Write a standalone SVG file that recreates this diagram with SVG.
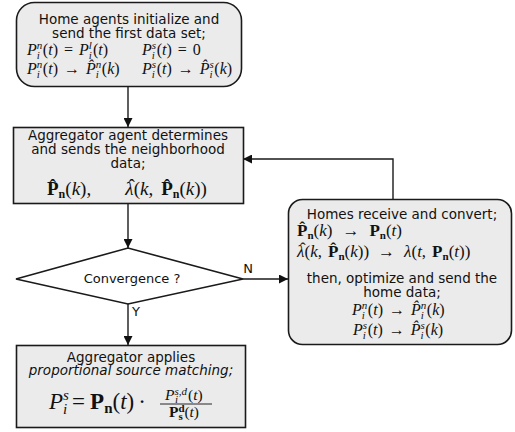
<svg xmlns="http://www.w3.org/2000/svg" width="515" height="432" viewBox="0 0 515 432">
<style>
.box{fill:#ebebeb;stroke:#1a1a1a;stroke-width:1.6}
.t{font-family:"DejaVu Sans",sans-serif;font-size:13.5px;fill:#111;text-anchor:middle}
.m{font-family:"Liberation Serif",serif;font-size:16px;font-style:italic;fill:#111}
.m19{font-size:19px}
.m17{font-size:17px}
.big{font-size:23px}
.fr{font-size:15.5px}
.s{font-size:11px}
.s12{font-size:12px}
.sb{font-size:15px}
.sf{font-size:11px}
.b{font-weight:bold;font-style:normal}
.u{font-style:normal}
.c{fill:none;stroke:#1a1a1a;stroke-width:1.4}
</style>
<defs>
<marker id="ah" viewBox="0 0 10 10" refX="10" refY="5" markerWidth="9" markerHeight="9" markerUnits="userSpaceOnUse" orient="auto">
<path d="M0,0 L10,5 L0,10 z" fill="#111"/>
</marker>
</defs>
<g id="connectors">
<path class="c" d="M128,87 V127" marker-end="url(#ah)"/>
<path class="c" d="M128,204 V248" marker-end="url(#ah)"/>
<path class="c" d="M243,279 H288" marker-end="url(#ah)"/>
<path class="c" d="M128,304 V345" marker-end="url(#ah)"/>
<path class="c" d="M393,199 V159 H243" marker-end="url(#ah)"/>
<text class="t" x="248" y="273" style="font-size:13px">N</text>
<text class="t" x="136" y="316" style="font-size:13px">Y</text>
</g>
<g id="start">
<rect class="box" x="16.5" y="2.5" width="225" height="84" rx="18"/>
<text class="t" x="129" y="24">Home agents initialize and</text>
<text class="t" x="129" y="38">send the first data set;</text>
<text class="m" x="27" y="55">P<tspan class="s" dy="-6">n</tspan><tspan class="s" dx="-5.5" dy="10">i</tspan><tspan class="u" dx="3" dy="-4">(</tspan>t<tspan class="u">)</tspan><tspan class="u" dx="6">=</tspan><tspan dx="6">P</tspan><tspan class="s" dy="-6">l</tspan><tspan class="s" dx="-3" dy="10">i</tspan><tspan class="u" dx="1" dy="-4">(</tspan>t<tspan class="u">)</tspan></text>
<text class="m" x="142" y="55">P<tspan class="s" dy="-6">s</tspan><tspan class="s" dx="-4.3" dy="10">i</tspan><tspan class="u" dx="1.8" dy="-4">(</tspan>t<tspan class="u">)</tspan><tspan class="u" dx="6">=</tspan><tspan class="u" dx="6">0</tspan></text>
<text class="m" x="27" y="74">P<tspan class="s" dy="-6">n</tspan><tspan class="s" dx="-5.5" dy="10">i</tspan><tspan class="u" dx="3" dy="-4">(</tspan>t<tspan class="u">)</tspan><tspan class="u" dx="6">→</tspan><tspan dx="6">P̂</tspan><tspan class="s" dy="-6">n</tspan><tspan class="s" dx="-5.5" dy="10">i</tspan><tspan class="u" dx="3" dy="-4">(</tspan>k<tspan class="u">)</tspan></text>
<text class="m" x="142" y="74">P<tspan class="s" dy="-6">s</tspan><tspan class="s" dx="-4.3" dy="10">i</tspan><tspan class="u" dx="1.8" dy="-4">(</tspan>t<tspan class="u">)</tspan><tspan class="u" dx="6">→</tspan><tspan dx="6">P̂</tspan><tspan class="s" dy="-6">s</tspan><tspan class="s" dx="-4.3" dy="10">i</tspan><tspan class="u" dx="1.8" dy="-4">(</tspan>k<tspan class="u">)</tspan></text>
</g>
<g id="aggregate">
<rect class="box" x="13.5" y="127.5" width="230" height="76"/>
<text class="t" x="128" y="140">Aggregator agent determines</text>
<text class="t" x="128" y="154">and sends the neighborhood</text>
<text class="t" x="128" y="168">data;</text>
<text class="m m19" x="47" y="195"><tspan class="b">P̂</tspan><tspan class="s12 b" dy="3">n</tspan><tspan class="u" dy="-3">(</tspan>k<tspan class="u">),</tspan><tspan dx="34">λ</tspan><tspan class="u" dx="-5" dy="-3">ˆ</tspan><tspan class="u" dx="-1" dy="3">(</tspan>k<tspan class="u">,</tspan><tspan class="b" dx="8">P̂</tspan><tspan class="s12 b" dy="3">n</tspan><tspan class="u" dy="-3">(</tspan>k<tspan class="u">))</tspan></text>
</g>
<g id="convergence">
<polygon class="box" points="16,279 128,248 243,279 128,304" style="fill:#ffffff"/>
<text class="t" x="132" y="283" style="font-size:13px">Convergence ?</text>
</g>
<g id="homes">
<rect class="box" x="288.5" y="199.5" width="223" height="145" rx="14"/>
<text class="t" x="402" y="219">Homes receive and convert;</text>
<text class="m m17" x="297" y="236"><tspan class="b">P̂</tspan><tspan class="s b" dy="3">n</tspan><tspan class="u" dy="-3">(</tspan>k<tspan class="u">)</tspan><tspan class="u" dx="10">→</tspan><tspan class="b" dx="10">P</tspan><tspan class="s b" dy="3">n</tspan><tspan class="u" dy="-3">(</tspan>t<tspan class="u">)</tspan></text>
<text class="m m17" x="297" y="257">λ<tspan class="u" dx="-4.5" dy="-3">ˆ</tspan><tspan class="u" dx="-1" dy="3">(</tspan>k<tspan class="u">,</tspan><tspan class="b" dx="6">P̂</tspan><tspan class="s b" dy="3">n</tspan><tspan class="u" dy="-3">(</tspan>k<tspan class="u">))</tspan><tspan class="u" dx="9">→</tspan><tspan dx="9">λ</tspan><tspan class="u">(</tspan>t<tspan class="u">,</tspan><tspan class="b" dx="6">P</tspan><tspan class="s b" dy="3">n</tspan><tspan class="u" dy="-3">(</tspan>t<tspan class="u">))</tspan></text>
<text class="t" x="402" y="283">then, optimize and send the</text>
<text class="t" x="402" y="297">home data;</text>
<text class="m" x="352" y="315">P<tspan class="s" dy="-6">n</tspan><tspan class="s" dx="-5.5" dy="10">i</tspan><tspan class="u" dx="3" dy="-4">(</tspan>t<tspan class="u">)</tspan><tspan class="u" dx="6">→</tspan><tspan dx="6">P̂</tspan><tspan class="s" dy="-6">n</tspan><tspan class="s" dx="-5.5" dy="10">i</tspan><tspan class="u" dx="3" dy="-4">(</tspan>k<tspan class="u">)</tspan></text>
<text class="m" x="353" y="335">P<tspan class="s" dy="-6">s</tspan><tspan class="s" dx="-4.3" dy="10">i</tspan><tspan class="u" dx="1.8" dy="-4">(</tspan>t<tspan class="u">)</tspan><tspan class="u" dx="6">→</tspan><tspan dx="6">P̂</tspan><tspan class="s" dy="-6">s</tspan><tspan class="s" dx="-4.3" dy="10">i</tspan><tspan class="u" dx="1.8" dy="-4">(</tspan>k<tspan class="u">)</tspan></text>
</g>
<g id="apply">
<rect class="box" x="16.5" y="345.5" width="229" height="82"/>
<text class="t" x="131" y="362">Aggregator applies</text>
<text class="t" x="131" y="375" style="font-style:italic">proportional source matching;</text>
<text class="m big" x="49" y="409">P<tspan class="sb" dy="-9">s</tspan><tspan class="sb" dx="-6" dy="14">i</tspan><tspan class="u" dx="5" dy="-5">=</tspan><tspan class="b" dx="5">P</tspan><tspan class="b sb" dy="4">n</tspan><tspan class="u" dy="-4">(</tspan>t<tspan class="u">)</tspan><tspan class="u" dx="4">·</tspan></text>
<line x1="160" y1="404" x2="212" y2="404" stroke="#111" stroke-width="0.9"/>
<text class="m fr" x="165" y="400">P<tspan class="sf" dy="-5">s,d</tspan><tspan class="sf" dx="-12" dy="8">i</tspan><tspan class="u" dx="10" dy="-3">(</tspan>t<tspan class="u">)</tspan></text>
<text class="m fr" x="169" y="417"><tspan class="b">P</tspan><tspan class="b sf" dy="-5">d</tspan><tspan class="b sf" dx="-6" dy="8">s</tspan><tspan class="u" dx="1.5" dy="-3">(</tspan>t<tspan class="u">)</tspan></text>
</g>
</svg>
